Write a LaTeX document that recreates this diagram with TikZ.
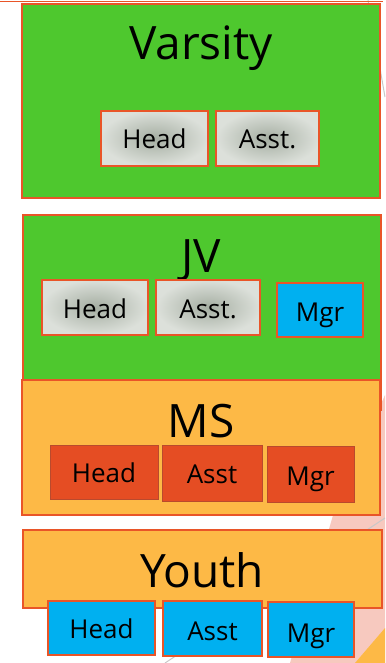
\documentclass[tikz,border=0pt]{standalone}
\usepackage{fontspec}
\setmainfont{Open Sans}
\definecolor{teamgreen}{RGB}{78,200,46}
\definecolor{teamorange}{RGB}{253,185,70}
\definecolor{edgeorange}{RGB}{233,85,40}
\definecolor{msred}{RGB}{229,77,35}
\definecolor{msedge}{RGB}{185,74,45}
\definecolor{mgrcyan}{RGB}{0,176,240}
\definecolor{grayout}{RGB}{220,224,218}
\definecolor{grayin}{RGB}{165,174,162}
\definecolor{bgpink}{RGB}{247,201,191}
\definecolor{bggray}{RGB}{200,200,200}
\begin{document}
\begin{tikzpicture}[x=1pt,y=-1pt,
  team/.style={draw=edgeorange,line width=1.5pt,inner sep=0pt},
  rolebox/.style={draw=edgeorange,line width=1.5pt,inner sep=0pt},
  grayrole/.style={rolebox,inner color=grayin,outer color=grayout},
  cyanrole/.style={rolebox,fill=mgrcyan},
  redrole/.style={rolebox,draw=msedge,line width=1pt,fill=msred},
  title/.style={anchor=base,font=\fontsize{46}{50}\selectfont,inner sep=0pt},
  lbl/.style={anchor=base,font=\fontsize{26}{30}\selectfont,inner sep=0pt}]
\useasboundingbox (0,0) rectangle (385,663);
% background decorations
\fill[bgpink] (385,395) -- (336,505) -- (290,663) -- (385,663) -- cycle;
\fill[teamorange] (355,663) -- (385,628) -- (385,663) -- cycle;
\draw[bggray,line width=1pt] (385,518) -- (165,663);
\draw[bggray,line width=1pt] (368,0) -- (385,97);
\draw[edgeorange,line width=1.5pt] (0,1.5) -- (383,1.5);
% Varsity
\node[team,fill=teamgreen,minimum width=358pt,minimum height=194pt] (varsity) at (201,101) {};
\node[title] (varsityt) at (201,60) {Varsity};
\node[grayrole,minimum width=107pt,minimum height=55pt] (vhead) at (154.5,138.5) {};
\node[grayrole,minimum width=103pt,minimum height=55pt] (vasst) at (267.5,138.5) {};
\node[lbl] (vheadt) at (154.5,149) {Head};
\node[lbl] (vasstt) at (267.5,149) {Asst.};
% JV
\node[team,fill=teamgreen,minimum width=358pt,minimum height=195pt] (jv) at (202,312.5) {};
\node[title] (jvt) at (201,272) {JV};
\node[grayrole,minimum width=106pt,minimum height=55pt] (jhead) at (95,307.5) {};
\node[grayrole,minimum width=104pt,minimum height=55pt] (jasst) at (208,307.5) {};
\node[cyanrole,minimum width=86pt,minimum height=54pt] (jmgr) at (320,310) {};
\node[lbl] (jheadt) at (95,318) {Head};
\node[lbl] (jasstt) at (208,318) {Asst.};
\node[lbl] (jmgrt) at (320,321) {Mgr};
% MS
\node[team,fill=teamorange,minimum width=358pt,minimum height=135pt] (ms) at (201,447.5) {};
\node[title] (mst) at (201,437) {MS};
\node[redrole,minimum width=108pt,minimum height=54pt] (mhead) at (104,472) {};
\node[redrole,minimum width=100pt,minimum height=56pt] (masst) at (212,473) {};
\node[redrole,minimum width=87pt,minimum height=56pt] (mmgr) at (310.5,474) {};
\node[lbl] (mheadt) at (104,482) {Head};
\node[lbl] (masstt) at (212,483) {Asst};
\node[lbl] (mmgrt) at (310.5,485) {Mgr};
% Youth
\node[team,fill=teamorange,minimum width=359pt,minimum height=78pt] (youth) at (202.5,569) {};
\node[title] (youtht) at (202,587) {Youth};
\node[cyanrole,minimum width=107pt,minimum height=54pt] (yhead) at (101.5,628) {};
\node[cyanrole,minimum width=99pt,minimum height=55pt] (yasst) at (212.5,628.5) {};
\node[cyanrole,minimum width=86pt,minimum height=55pt] (ymgr) at (311,629.5) {};
\node[lbl] (yheadt) at (101.5,638) {Head};
\node[lbl] (yasstt) at (212.5,640) {Asst};
\node[lbl] (ymgrt) at (311,642) {Mgr};
\end{tikzpicture}
\end{document}
